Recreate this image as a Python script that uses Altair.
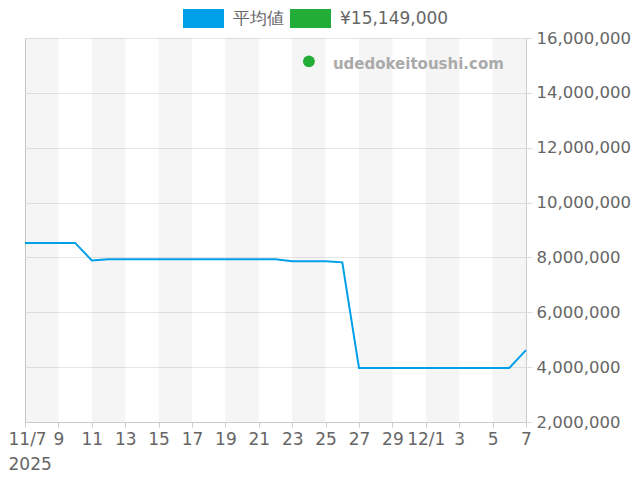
import altair as alt
import pandas as pd
import json

# ---- data ----
dates = [
    "2025-11-07", "2025-11-08", "2025-11-09", "2025-11-10", "2025-11-11",
    "2025-11-12", "2025-11-13", "2025-11-14", "2025-11-15", "2025-11-16",
    "2025-11-17", "2025-11-18", "2025-11-19", "2025-11-20", "2025-11-21",
    "2025-11-22", "2025-11-23", "2025-11-24", "2025-11-25", "2025-11-26",
    "2025-11-27", "2025-11-28", "2025-11-29", "2025-11-30", "2025-12-01",
    "2025-12-02", "2025-12-03", "2025-12-04", "2025-12-05", "2025-12-06",
    "2025-12-07",
]
avg_values = [
    8530000, 8530000, 8530000, 8530000, 7890000,
    7930000, 7930000, 7930000, 7930000, 7930000,
    7930000, 7930000, 7930000, 7930000, 7930000,
    7930000, 7865000, 7865000, 7865000, 7820000,
    3970000, 3970000, 3970000, 3970000, 3970000,
    3970000, 3970000, 3970000, 3970000, 3970000,
    4620000,
]
point_dates = ["2025-11-24"]
point_values = [15149000]
series_names = ["平均値", "¥15,149,000"]
series_colors = ["#00a0e9", "#22ac38"]
band_starts = ["2025-11-07", "2025-11-11", "2025-11-15", "2025-11-19",
               "2025-11-23", "2025-11-27", "2025-12-01", "2025-12-05"]
band_ends = ["2025-11-09", "2025-11-13", "2025-11-17", "2025-11-21",
             "2025-11-25", "2025-11-29", "2025-12-03", "2025-12-07"]
x_tick_dates = ["2025-11-07", "2025-11-09", "2025-11-11", "2025-11-13",
                "2025-11-15", "2025-11-17", "2025-11-19", "2025-11-21",
                "2025-11-23", "2025-11-25", "2025-11-27", "2025-11-29",
                "2025-12-01", "2025-12-03", "2025-12-05", "2025-12-07"]
x_tick_labels = [["11/7", "2025"], "9", "11", "13", "15",
                 "17", "19", "21", "23", "25", "27", "29", "12/1", "3", "5",
                 "7"]
y_ticks = [2000000, 4000000, 6000000, 8000000, 10000000, 12000000,
           14000000, 16000000]
WATERMARK = "udedokeitoushi.com"


def ms(d):
    return int(pd.Timestamp(d, tz="UTC").value // 10**6)


start_ms = ms(dates[0])
end_ms = ms(dates[-1])
tick_ms = [ms(d) for d in x_tick_dates]

label_expr = (f"{json.dumps(x_tick_labels, ensure_ascii=False)}"
              f"[round((datum.value - {start_ms}) / 172800000)]")
first_test = f"abs(datum.value - {start_ms}) < 1000"

line_df = pd.DataFrame({"date": dates, "value": avg_values})
point_df = pd.DataFrame({"date": point_dates, "value": point_values,
                         "series": [series_names[1]]})
band_df = pd.DataFrame({"start": band_starts, "end": band_ends})

xscale = alt.Scale(type="utc", domain=[start_ms, end_ms], nice=False)
yscale = alt.Scale(domain=[y_ticks[0], y_ticks[-1]], nice=False, zero=False)

x_axis = alt.Axis(values=tick_ms, labelExpr=label_expr, title=None, grid=False,
                  tickSize=5, tickColor="#cccccc", domainColor="#cccccc",
                  labelFontSize=17, labelColor="#666666", labelPadding=4,
                  labelLineHeight=25, labelOverlap=False, labelFlush=False,
                  labelBound=False,
                  labelAlign={"condition": {"test": first_test, "value": "left"},
                              "value": "center"},
                  labelOffset={"condition": {"test": first_test, "value": -17},
                               "value": 0})
y_axis = alt.Axis(values=y_ticks, format=",d", orient="right", title=None,
                  grid=True, gridColor="#e6e6e6", domain=False,
                  tickSize=6, tickColor="#dddddd", labelFontSize=16.5,
                  labelColor="#666666", labelPadding=4, labelOverlap=False)

bands = alt.Chart(band_df).mark_rect(color="#000000", opacity=0.04).encode(
    x=alt.X("start:T", scale=xscale, axis=x_axis),
    x2="end:T",
    y=alt.datum(y_ticks[0], type="quantitative", scale=yscale, axis=y_axis),
    y2=alt.datum(y_ticks[-1]),
)

line = alt.Chart(line_df).mark_line(strokeWidth=2, color=series_colors[0]).encode(
    x=alt.X("date:T", scale=xscale, axis=x_axis),
    y=alt.Y("value:Q", scale=yscale, axis=y_axis),
)

legend = alt.Legend(
    title=None, orient="none", legendX=158, legendY=-40, direction="horizontal",
    symbolType="M-1,-0.46H1V0.46H-1Z", symbolSize=1681, symbolStrokeWidth=0,
    symbolOpacity=1, labelFontSize=17, labelColor="#666666", labelOffset=9,
    columnPadding=6,
)

points = alt.Chart(point_df).mark_circle(size=140, opacity=1).encode(
    x=alt.X("date:T", scale=xscale, axis=x_axis),
    y=alt.Y("value:Q", scale=yscale, axis=y_axis),
    fill=alt.Fill("series:N",
                  scale=alt.Scale(domain=series_names, range=series_colors),
                  legend=legend),
)

watermark = alt.Chart(point_df).mark_text(
    align="left", baseline="middle", dx=24, dy=3, fontWeight="bold",
    fontSize=15, color="#aaaaaa"
).encode(
    x=alt.X("date:T", scale=xscale, axis=x_axis),
    y=alt.Y("value:Q", scale=yscale, axis=y_axis),
    text=alt.value(WATERMARK),
)

chart = alt.layer(bands, line, points, watermark).properties(
    width=501, height=384,
    autosize=alt.AutoSizeParams(type="none"),
    padding={"left": 17, "top": 30, "right": 106, "bottom": 50},
).configure(font="DejaVu Sans").configure_view(stroke="#cccccc").configure_axis(
    labelOverlap=False
)

chart.save("out.html", embed_options={"renderer": "svg", "actions": False})
